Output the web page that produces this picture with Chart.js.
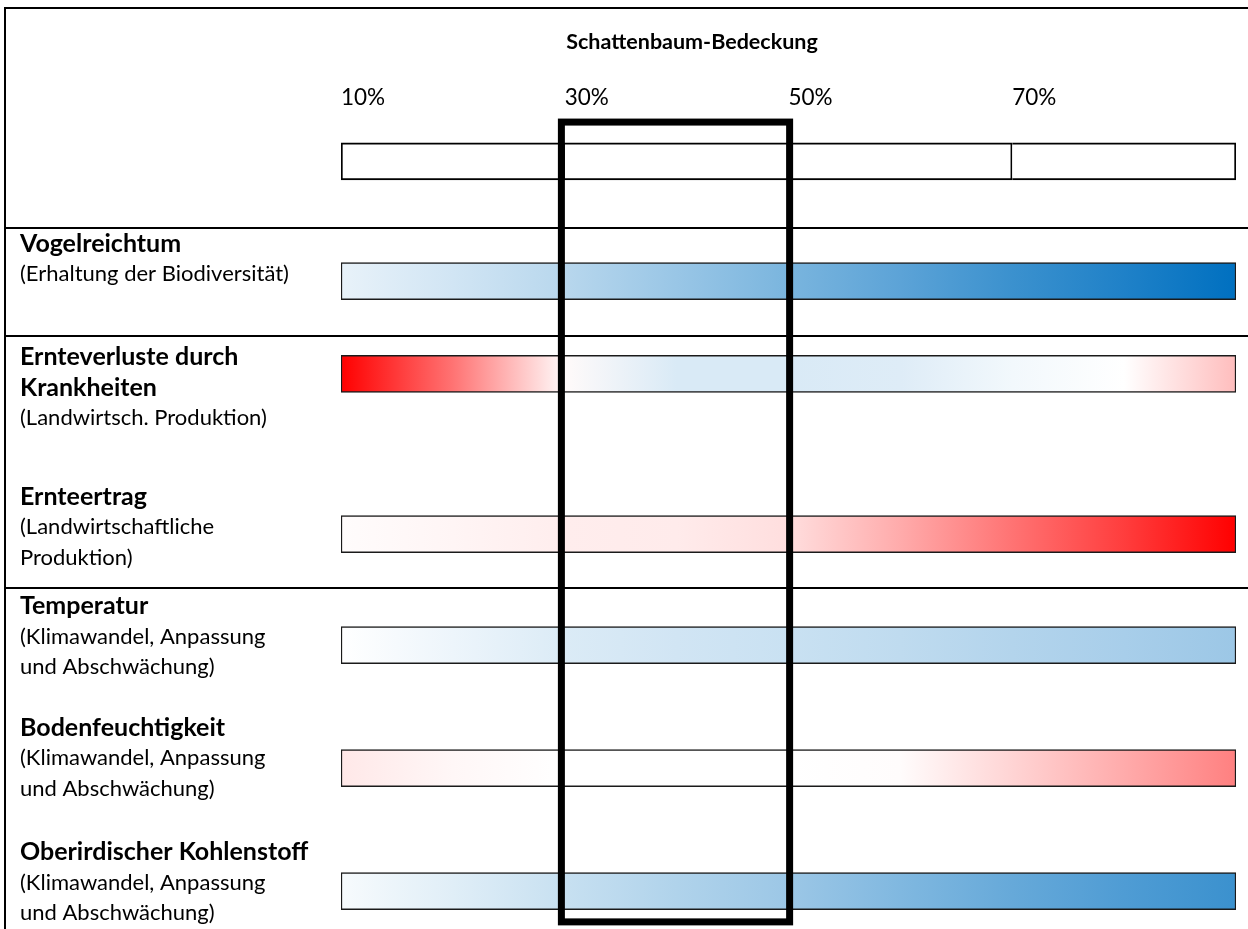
<!DOCTYPE html>
<html>
<head>
<meta charset="utf-8">
<script src="https://cdn.jsdelivr.net/npm/chart.js@4.4.1/dist/chart.umd.min.js"></script>
<style>
  html, body { margin: 0; padding: 0; background: #fff; }
  #wrap { width: 1248px; height: 929px; position: relative; }
</style>
</head>
<body>
<div id="wrap"><canvas id="chart"></canvas></div>
<script>
const coverage = [10, 20, 30, 40, 50, 60, 70, 80, 90];
const tickValues = [10, 30, 50, 70];
const tickLabels = ['10%', '30%', '50%', '70%'];
const axisTitle = 'Schattenbaum-Bedeckung';
// the optimum window (thick frame)
const optimalRange = [29.7, 50.1];

const rowTitles = [
  ['Vogelreichtum'],
  ['Ernteverluste durch', 'Krankheiten'],
  ['Ernteertrag'],
  ['Temperatur'],
  ['Bodenfeuchtigkeit'],
  ['Oberirdischer Kohlenstoff']
];
const rowNotes = [
  ['(Erhaltung der Biodiversität)'],
  ['(Landwirtsch. Produktion)'],
  ['(Landwirtschaftliche', 'Produktion)'],
  ['(Klimawandel, Anpassung', 'und Abschwächung)'],
  ['(Klimawandel, Anpassung', 'und Abschwächung)'],
  ['(Klimawandel, Anpassung', 'und Abschwächung)']
];

// effect per coverage step: +1 = strong blue, -1 = strong red, 0 = white
const birdRichness = [0.09, 0.18, 0.28, 0.40, 0.52, 0.64, 0.77, 0.88, 1.0];
const diseaseLoss  = [-1.0, -0.55, -0.02, 0.15, 0.15, 0.13, 0.05, 0.0, -0.26];
const cropYield    = [-0.01, -0.04, -0.07, -0.08, -0.13, -0.33, -0.55, -0.76, -1.0];
const temperature  = [0.0, 0.07, 0.14, 0.18, 0.21, 0.25, 0.30, 0.34, 0.39];
const soilMoisture = [-0.09, -0.03, 0.0, 0.0, 0.0, -0.01, -0.17, -0.33, -0.5];
const carbon       = [0.03, 0.12, 0.22, 0.31, 0.39, 0.50, 0.60, 0.69, 0.77];
const effects = [birdRichness, diseaseLoss, cropYield, temperature, soilMoisture, carbon];

// vertical layout in label-line units (1 unit = 30.75px)
const LINE = 30.75;
const rowCentre = [9.14, 12.16, 17.37, 20.98, 24.98, 28.98];
const rowTextTop = [7.93, 11.61, 16.16, 19.71, 23.67, 27.71];
const sectionLines = [7.41, 10.93, 19.12];
const FRAME_TOP = 0.26, TITLE_LINE = 1.37, TICK_LINE = 3.19, HEADER_ROW = 5.25;
const FRAME_BOTTOM = 29.98, FRAME_TOP_BOX = 3.97;

const lo = coverage[0], hi = coverage[coverage.length - 1];
const headerCells = tickValues.map((v, i) => [v, i + 1 < tickValues.length ? tickValues[i + 1] : hi]);

const blue = [0, 112, 192], red = [255, 0, 0];
function effectColor(v) {
  const a = Math.min(1, Math.abs(v));
  const t = v >= 0 ? blue : red;
  const c = t.map(k => Math.round(255 + (k - 255) * a));
  return 'rgb(' + c.join(',') + ')';
}

function barGradient(context) {
  const chart = context.chart;
  const x = chart.scales.x;
  if (!chart.chartArea || !x) return '#fff';
  const series = effects[context.dataIndex];
  const g = chart.ctx.createLinearGradient(x.getPixelForValue(lo), 0, x.getPixelForValue(hi), 0);
  coverage.forEach((c, i) => g.addColorStop((c - lo) / (hi - lo), effectColor(series[i])));
  return g;
}

const tablePlugin = {
  id: 'table',
  beforeDatasetsDraw(chart) {
    const { ctx, scales: { x, y }, width, height } = chart;
    ctx.save();
    ctx.strokeStyle = '#000';
    ctx.lineWidth = 2;
    // outer frame (top + left)
    ctx.beginPath();
    ctx.moveTo(width, y.getPixelForValue(FRAME_TOP));
    ctx.lineTo(5, y.getPixelForValue(FRAME_TOP));
    ctx.lineTo(5, height);
    ctx.stroke();
    // section separators
    sectionLines.forEach(v => {
      const py = Math.round(y.getPixelForValue(v));
      ctx.beginPath();
      ctx.moveTo(5, py);
      ctx.lineTo(width, py);
      ctx.stroke();
    });

    ctx.fillStyle = '#000';
    ctx.textBaseline = 'middle';
    // axis title + ticks
    ctx.font = 'bold 21.5px Lato';
    ctx.textAlign = 'center';
    ctx.fillText(axisTitle, 692, y.getPixelForValue(TITLE_LINE));
    ctx.font = '22.5px Lato';
    ctx.textAlign = 'left';
    tickValues.forEach((v, i) => ctx.fillText(tickLabels[i], x.getPixelForValue(v), y.getPixelForValue(TICK_LINE)));

    // row labels
    rowTitles.forEach((lines, i) => {
      let line = rowTextTop[i];
      ctx.font = 'bold 25px Lato';
      lines.forEach(t => { ctx.fillText(t, 20, y.getPixelForValue(line)); line += 0.99; });
      ctx.font = '22px Lato';
      rowNotes[i].forEach(t => { ctx.fillText(t, 20, y.getPixelForValue(line)); line += 0.99; });
    });
    ctx.restore();
  },
  afterDatasetsDraw(chart) {
    const { ctx, scales: { x, y } } = chart;
    ctx.save();
    ctx.strokeStyle = '#000';
    ctx.lineWidth = 7;
    const x0 = x.getPixelForValue(optimalRange[0]);
    const x1 = x.getPixelForValue(optimalRange[1]);
    const y0 = y.getPixelForValue(FRAME_TOP_BOX);
    const y1 = y.getPixelForValue(FRAME_BOTTOM);
    ctx.strokeRect(x0, y0, x1 - x0, y1 - y0);
    ctx.restore();
  }
};

new Chart(document.getElementById('chart'), {
  type: 'bar',
  data: {
    datasets: [
      {
        label: axisTitle,
        data: headerCells.map(c => ({ x: c, y: HEADER_ROW })),
        backgroundColor: '#fff',
        borderColor: '#000',
        borderWidth: 2,
        borderSkipped: ctx => ctx.dataIndex === 0 ? false : 'left',
        barThickness: 37,
        grouped: false
      },
      {
        label: 'Wirkung',
        data: rowTitles.map((t, i) => ({ x: [lo, hi], y: rowCentre[i] })),
        backgroundColor: barGradient,
        borderColor: '#1a1a1a',
        borderWidth: 1.5,
        borderSkipped: false,
        barThickness: 37,
        grouped: false
      }
    ]
  },
  options: {
    indexAxis: 'y',
    responsive: true,
    maintainAspectRatio: false,
    animation: false,
    layout: { padding: { left: 341, right: 12, top: 0, bottom: 0 } },
    plugins: { legend: { display: false }, tooltip: { enabled: false } },
    scales: {
      x: { type: 'linear', min: lo, max: hi, offset: false, display: false },
      y: { type: 'linear', reverse: true, min: 0, max: 929 / LINE, offset: false, display: false }
    }
  },
  plugins: [tablePlugin]
});
</script>
</body>
</html>
